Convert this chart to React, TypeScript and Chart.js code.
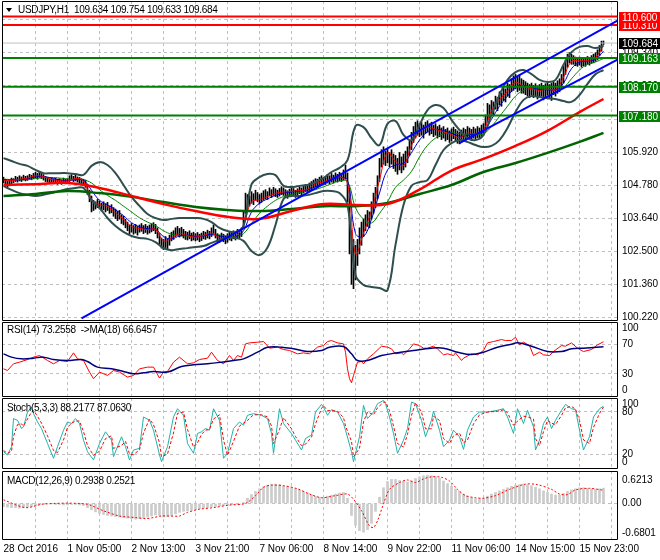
import React, { useEffect, useRef } from 'react';
import { Chart, registerables } from 'chart.js';

Chart.register(...registerables);

const FONT = '"Liberation Sans", Arial, sans-serif';
const GRID = '#C0C0C0';
const DASH = [3, 3];
const NONE = 'rgba(0,0,0,0)';

// ---------------- time axis ----------------
const X_MIN = -0.75;
const X_MAX = 306.75;
const gridBars = [16, 32, 48, 64, 80, 96, 112, 128, 144, 160, 176, 192, 208, 224, 240, 256, 272, 288, 304];
const xLabelBars = [0, 32, 64, 96, 128, 160, 192, 224, 256, 288];
const xLabels = ['28 Oct 2016', '1 Nov 05:00', '2 Nov 13:00', '3 Nov 21:00', '7 Nov 06:00', '8 Nov 14:00', '9 Nov 22:00', '11 Nov 06:00', '14 Nov 15:00', '15 Nov 23:00'];

// ---------------- price (H1 bars, high / low) ----------------
const barHigh = [
  105.05, 104.98, 104.92, 104.95, 105.02, 105.0, 105.08, 105.05, 105.1, 105.06,
  105.12, 105.08, 105.1, 105.15, 105.12, 105.18, 105.22, 105.18, 105.25, 105.2,
  105.14, 105.08, 105.05, 105.0, 105.04, 104.98, 105.02, 104.98, 105.0, 104.96,
  105.02, 104.98, 105.0, 105.1, 105.14, 105.08, 105.12, 105.06, 105.04, 105.0,
  104.98, 104.95, 104.8, 104.6, 104.4, 104.25, 104.2, 104.28, 104.22, 104.15,
  104.2, 104.12, 104.18, 104.05, 104.1, 104.0, 103.95, 103.88, 103.9, 103.75,
  103.7, 103.6, 103.5, 103.4, 103.45, 103.38, 103.42, 103.35, 103.4, 103.45,
  103.38, 103.42, 103.36, 103.4, 103.44, 103.48, 103.42, 103.3, 103.1, 102.95,
  102.9, 103.0, 102.92, 103.05, 103.15, 103.2, 103.3, 103.35, 103.28, 103.32,
  103.25, 103.18, 103.15, 103.2, 103.12, 103.15, 103.1, 103.14, 103.08, 103.12,
  103.18, 103.15, 103.22, 103.18, 103.3, 103.4, 103.25, 103.1, 103.05, 103.12,
  103.08, 103.02, 103.1, 103.18, 103.12, 103.2, 103.15, 103.25, 103.2, 103.3,
  103.9, 104.5, 104.45, 104.4, 104.55, 104.48, 104.6, 104.52, 104.45, 104.5,
  104.58, 104.62, 104.55, 104.68, 104.62, 104.7, 104.65, 104.6, 104.66, 104.72,
  104.68, 104.62, 104.58, 104.64, 104.7, 104.66, 104.6, 104.65, 104.72, 104.68,
  104.74, 104.8, 104.76, 104.85, 104.9, 104.95, 105.0, 104.98, 105.05, 105.1,
  105.02, 105.08, 105.15, 105.1, 105.18, 105.12, 105.2, 105.15, 105.22, 105.18,
  105.3, 105.47, 105.2, 104.6, 103.2, 102.9, 102.7, 102.9, 103.3, 103.5,
  103.6, 103.75, 103.9, 103.85, 104.2, 104.5, 104.7, 105.1, 105.7, 106.0,
  106.1, 105.95, 106.05, 105.9, 106.0, 105.85, 105.8, 105.7, 105.9, 105.75,
  105.85, 105.95, 106.1, 106.3, 106.6, 106.8, 106.95, 107.0, 106.9, 106.95,
  106.85, 106.95, 107.0, 106.9, 106.95, 106.85, 106.9, 106.8, 106.85, 106.75,
  106.8, 106.7, 106.75, 106.65, 106.72, 106.78, 106.7, 106.65, 106.6, 106.68,
  106.75, 106.7, 106.8, 106.75, 106.7, 106.78, 106.72, 106.8, 106.75, 106.85,
  106.9, 107.2, 107.6, 107.55, 107.7, 107.65, 107.85, 107.8, 108.0, 107.95,
  108.15, 108.1, 108.3, 108.25, 108.45, 108.55, 108.6, 108.5, 108.58, 108.45,
  108.4, 108.35, 108.3, 108.25, 108.3, 108.22, 108.28, 108.2, 108.25, 108.3,
  108.22, 108.28, 108.32, 108.25, 108.3, 108.35, 108.3, 108.38, 108.45, 108.6,
  108.9, 109.1, 109.3, 109.35, 109.3, 109.25, 109.2, 109.15, 109.2, 109.12,
  109.18, 109.15, 109.22, 109.18, 109.25, 109.3, 109.35, 109.45, 109.6, 109.75,
  109.754,
];
const barLow = [
  104.85, 104.78, 104.7, 104.75, 104.82, 104.86, 104.9, 104.88, 104.92, 104.9,
  104.95, 104.92, 104.94, 104.98, 104.96, 105.0, 105.02, 104.98, 105.04, 105.0,
  104.95, 104.9, 104.88, 104.84, 104.86, 104.82, 104.85, 104.8, 104.84, 104.8,
  104.85, 104.82, 104.84, 104.9, 104.95, 104.9, 104.92, 104.88, 104.86, 104.82,
  104.78, 104.7, 104.45, 104.2, 103.85, 103.9, 103.95, 104.0, 103.95, 103.88,
  103.92, 103.85, 103.9, 103.8, 103.82, 103.7, 103.62, 103.55, 103.6, 103.45,
  103.4, 103.3, 103.2, 103.1, 103.15, 103.08, 103.12, 103.05, 103.15, 103.18,
  103.1, 103.14, 103.08, 103.12, 103.16, 103.2, 103.1, 102.95, 102.75, 102.6,
  102.55, 102.62, 102.58, 102.7, 102.85, 102.9, 103.0, 103.05, 102.98, 103.02,
  102.95, 102.9, 102.88, 102.92, 102.85, 102.88, 102.85, 102.88, 102.82, 102.86,
  102.92, 102.9, 102.95, 102.92, 103.0, 103.1, 102.95, 102.82, 102.8, 102.85,
  102.82, 102.75, 102.8, 102.88, 102.85, 102.92, 102.88, 102.95, 102.95, 103.0,
  103.3, 103.8, 104.0, 104.05, 104.15, 104.1, 104.25, 104.2, 104.12, 104.18,
  104.25, 104.3, 104.28, 104.4, 104.35, 104.42, 104.38, 104.35, 104.4, 104.45,
  104.42, 104.36, 104.32, 104.38, 104.45, 104.4, 104.35, 104.4, 104.48, 104.44,
  104.5, 104.55, 104.52, 104.58, 104.62, 104.68, 104.72, 104.7, 104.75, 104.82,
  104.78, 104.8, 104.85, 104.82, 104.88, 104.85, 104.9, 104.88, 104.92, 104.9,
  104.95, 105.0, 104.2, 102.4, 101.35, 101.2, 101.5, 102.0, 102.4, 102.7,
  103.0, 103.2, 103.35, 103.3, 103.6, 103.8, 104.0, 104.3, 104.9, 105.4,
  105.5, 105.45, 105.55, 105.4, 105.5, 105.35, 105.25, 105.15, 105.3, 105.2,
  105.3, 105.4, 105.55, 105.8, 106.0, 106.25, 106.4, 106.5, 106.45, 106.5,
  106.4, 106.55, 106.6, 106.5, 106.55, 106.45, 106.5, 106.4, 106.45, 106.35,
  106.4, 106.3, 106.35, 106.25, 106.3, 106.38, 106.3, 106.22, 106.2, 106.28,
  106.35, 106.3, 106.4, 106.38, 106.32, 106.4, 106.35, 106.42, 106.4, 106.45,
  106.5, 106.7, 106.95, 107.1, 107.25, 107.2, 107.4, 107.35, 107.55, 107.5,
  107.7, 107.65, 107.85, 107.8, 108.0, 108.05, 108.1, 108.0, 108.05, 107.95,
  107.95, 107.9, 107.85, 107.8, 107.88, 107.8, 107.85, 107.75, 107.82, 107.85,
  107.72, 107.8, 107.88, 107.8, 107.7, 107.9, 107.85, 107.95, 108.0, 108.1,
  108.3, 108.6, 108.85, 109.0, 108.95, 108.95, 108.9, 108.88, 108.92, 108.85,
  108.9, 108.88, 108.95, 108.92, 108.98, 109.0, 109.05, 109.1, 109.25, 109.4,
  109.633,
];

// ---------------- overlays, sampled every 4 bars ----------------
const bbUpper = [
  105.71, 105.61, 105.51, 105.44, 105.3, 105.19, 105.19, 105.19, 105.19, 105.16,
  105.13, 105.44, 105.57, 105.47, 105.19, 104.78, 104.37, 104.06, 103.78, 103.64,
  103.57, 103.61, 103.64, 103.64, 103.64, 103.61, 103.5, 103.3, 103.19, 103.16,
  103.36, 104.8, 105.05, 105.16, 105.12, 104.75, 104.71, 104.75, 104.78, 104.88,
  105.02, 105.23, 105.37, 105.64, 106.82, 106.78, 106.4, 106.16, 106.89, 106.99,
  106.51, 106.33, 106.85, 107.37, 107.54, 107.44, 107.03, 106.68, 106.4, 106.33,
  106.51, 107.2, 107.89, 108.41, 108.68, 108.75, 108.61, 108.41, 108.34, 108.41,
  108.93, 109.37, 109.55, 109.58, 109.51, 109.58,
];
const bbLower = [
  104.74, 104.61, 104.5, 104.44, 104.4, 104.44, 104.5, 104.57, 104.64, 104.68,
  104.68, 104.26, 103.99, 103.64, 103.36, 103.16, 103.02, 102.95, 102.92, 102.81,
  102.6, 102.53, 102.57, 102.6, 102.64, 102.67, 102.78, 102.88, 102.95, 102.95,
  102.85, 102.5, 102.36, 102.62, 103.4, 104.3, 104.4, 104.4, 104.43, 104.5,
  104.57, 104.57, 104.5, 104.09, 101.67, 101.33, 101.26, 101.22, 101.15, 102.71,
  104.09, 104.75, 104.88, 104.95, 105.47, 105.99, 106.23, 106.33, 106.27, 106.16,
  106.09, 106.13, 106.33, 106.75, 107.3, 107.72, 107.85, 107.82, 107.78, 107.75,
  107.68, 107.65, 107.89, 108.27, 108.61, 108.75,
];
const fastRed = [
  104.95, 104.93, 104.98, 105.02, 105.1, 105.07, 104.97, 104.93, 104.92, 105.0,
  104.92, 104.3, 104.1, 104.04, 103.82, 103.6, 103.35, 103.28, 103.24, 103.25,
  102.85, 102.95, 103.1, 103.03, 102.98, 103.04, 103.12, 102.96, 102.95, 103.0,
  103.4, 104.2, 104.27, 104.38, 104.49, 104.54, 104.56, 104.59, 104.63, 104.82,
  104.89, 105.0, 105.06, 104.85, 102.4, 103.12, 103.9, 104.95, 105.9, 105.6,
  105.45, 106.15, 106.6, 106.77, 106.7, 106.62, 106.52, 106.42, 106.57, 106.56,
  106.68, 107.35, 107.72, 108.02, 108.32, 108.2, 108.1, 108.05, 108.09, 108.07,
  108.5, 109.05, 109.07, 109.08, 109.18, 109.6,
];
const fastBlue = [
  104.97, 104.95, 104.96, 105.0, 105.06, 105.07, 105.02, 104.96, 104.93, 104.96,
  104.95, 104.6, 104.25, 104.1, 103.92, 103.72, 103.48, 103.34, 103.27, 103.25,
  103.0, 102.92, 103.02, 103.05, 103.0, 103.02, 103.08, 103.02, 102.97, 102.99,
  103.2, 103.85, 104.15, 104.3, 104.42, 104.5, 104.54, 104.57, 104.61, 104.72,
  104.85, 104.95, 105.03, 104.95, 103.1, 103.0, 103.6, 104.5, 105.3, 105.47,
  105.53, 105.9, 106.33, 106.62, 106.7, 106.66, 106.57, 106.47, 106.5, 106.55,
  106.62, 107.05, 107.5, 107.85, 108.15, 108.22, 108.15, 108.08, 108.07, 108.07,
  108.3, 108.8, 109.02, 109.06, 109.12, 109.4,
];
const fastGreen = [
  104.98, 104.97, 104.96, 104.97, 105.0, 105.03, 105.04, 105.02, 104.99, 104.97,
  104.96, 104.85, 104.62, 104.42, 104.25, 104.05, 103.85, 103.65, 103.5, 103.38,
  103.2, 103.08, 103.03, 103.02, 103.02, 103.03, 103.05, 103.05, 103.02, 103.0,
  103.1, 103.45, 103.8, 104.05, 104.25, 104.38, 104.46, 104.52, 104.56, 104.62,
  104.72, 104.82, 104.92, 104.9, 104.0, 103.6, 103.47, 103.8, 104.2, 104.7,
  104.95, 105.25, 105.75, 106.15, 106.4, 106.55, 106.58, 106.55, 106.52, 106.52,
  106.55, 106.8, 107.15, 107.5, 107.85, 108.05, 108.1, 108.12, 108.1, 108.08,
  108.15, 108.45, 108.75, 108.95, 109.03, 109.15,
];

// slow moving averages
const slowBars = [0, 16, 32, 48, 64, 80, 96, 112, 128, 144, 160, 176, 192, 208, 224, 240, 256, 272, 288, 300];
const slowRed = [104.78, 104.81, 104.85, 104.68, 104.4, 104.12, 103.88, 103.68, 103.61, 103.88, 104.12, 104.09, 104.12, 104.62, 105.28, 105.68, 106.13, 106.65, 107.3, 107.75];
const slowGreen = [104.4, 104.47, 104.57, 104.5, 104.37, 104.19, 104.02, 103.92, 103.88, 103.95, 104.05, 104.05, 104.16, 104.47, 104.78, 105.23, 105.54, 105.89, 106.27, 106.58];

// horizontal levels and channel
const redLevels = [110.31, 110.6];
const greenLevels = [109.163, 108.17, 107.18];
const lastPrice = 109.684;
const upperChannelBars = [39, 307];
const upperChannelPrices = [100.17, 110.46];
const lowerChannelBars = [228, 307];
const lowerChannelPrices = [106.23, 109.11];
const priceGrid = [110.48, 109.34, 108.2, 107.06, 105.92, 104.78, 103.64, 102.5, 101.36, 100.22];

// ---------------- RSI ----------------
const rsiBars = [
  0, 2, 5, 8, 12, 15, 18, 22, 25, 28, 32, 35, 37, 40, 43, 45, 48, 52, 55, 58,
  62, 65, 68, 72, 75, 78, 80, 82, 85, 88, 92, 95, 98, 102, 104, 107, 110, 113, 115, 117,
  119, 121, 123, 127, 130, 133, 137, 140, 143, 147, 150, 153, 157, 160, 162,
  164, 167, 170, 171, 172, 173, 174, 175, 177, 179, 180, 182, 185, 189, 192, 194, 196, 199, 200, 203,
  205, 208, 210, 212, 215, 217, 220, 222, 225, 226, 229, 230, 234, 237, 240, 242, 245, 249, 251, 254,
  256, 258, 260, 263, 265, 268, 270, 273, 275, 279, 281, 284, 287, 290, 294, 297, 300,
];
const rsiValues = [
  36.7, 34.5, 43.5, 45.7, 49.3, 52.5, 54.7, 48, 43.5, 48, 46.6, 58.3, 50.2, 48, 32.3, 23.3, 32.3, 27.8, 34.5, 32.3,
  25.5, 27.8, 36.7, 39, 39, 24.2, 32.3, 33.2, 45.7, 52.5, 43.5, 44.8, 49.3, 51.1, 59.2, 48, 43.5, 54.7, 48, 54.7,
  52.5, 70.4, 71.8, 72.7, 73.6, 64.6, 66, 62.8, 61.5, 57, 58.3, 57, 66, 68.2, 73.6,
  74.9, 71.8, 70.4, 59.2, 36.7, 23.3, 17.9, 27.8, 45.7, 46.6, 43.5, 50.2, 57, 67.3, 66, 63.7, 57, 58.3, 55.6, 63.7,
  70.4, 68.2, 64.6, 64.6, 67.3, 63.7, 55.6, 57, 54.7, 58.3, 48, 51.1, 57, 55.6, 61.5, 71.8, 73.6, 76.3, 74.9, 74.9,
  79.4, 69.1, 72.7, 68.2, 54.7, 59.2, 55.6, 54.7, 60.1, 68.2, 67.3, 71.8, 64.6, 60.1, 62.8, 69.1, 73.3,
];
const rsiMaBars = [0, 4, 9, 15, 20, 25, 32, 39, 42, 47, 54, 60, 65, 70, 75, 82, 89, 95, 102, 109, 115, 120, 127, 132, 139, 145, 152, 159, 163, 170, 174, 177, 182, 189, 197, 205, 214, 220, 227, 234, 240, 247, 254, 257, 264, 272, 279, 284, 290, 300];
const rsiMaValues = [57, 52.5, 50.2, 51.1, 52.5, 49.3, 48, 49.3, 46.6, 39, 36.7, 33.2, 30, 31.3, 33.2, 32.3, 39.9, 42.1, 43.5, 45.7, 48, 50.2, 59.2, 66, 66, 63.7, 60.1, 61.5, 66, 66.9, 57, 48, 48, 54.7, 58.3, 61.5, 64.6, 64.6, 59.2, 56.1, 59.2, 66, 70, 71.8, 67.3, 60.1, 60.1, 63.7, 64.6, 66.6];
const rsiTickValues = [8.2, 30, 70, 91.8];
const rsiTickLabels = ['0', '30', '70', '100'];
const rsiGridLevels = [70, 30];

// ---------------- Stochastic ----------------
const stochBars = [
  0, 2, 4, 5, 7, 9, 10, 12, 14, 15, 17, 19, 22, 25, 27, 30, 32, 34, 36, 38,
  40, 42, 45, 48, 51, 54, 55, 59, 61, 63, 65, 68, 70, 73, 75, 78, 79, 82, 85, 87,
  90, 92, 95, 97, 99, 101, 103, 105, 108, 110, 112, 115, 118, 120, 122, 125, 129, 132, 134, 135,
  138, 140, 144, 146, 149, 151, 154, 156, 159, 160, 162,
  164, 167, 170, 171, 174, 175, 178, 180, 182, 185, 187, 190, 191, 193, 195, 197, 200, 202, 204, 206,
  209, 211, 214, 215, 218, 220, 223, 225, 228, 230, 232, 235, 238, 242, 247, 250, 252, 255, 257, 260,
  262, 265, 266, 268, 270, 272, 274, 276, 279, 281, 284, 286, 288, 290, 293, 295, 298, 300,
];
const stochMain = [
  23.3, 18.6, 30.4, 70.6, 68.2, 56.4, 58.7, 80, 87, 77.6, 65.8, 56.4, 35.1, 13.9, 30.4, 54, 65.8, 63.5, 70.6, 63.5,
  39.8, 23.3, 11.5, 35.1, 51.7, 39.8, 16.2, 44.6, 30.4, 11.5, 25.7, 28, 72.9, 68.2, 54, 18.6, 9.1, 30.4, 72.9, 84.7,
  75.3, 35.1, 21, 49.3, 51.7, 56.4, 54, 84.7, 68.2, 13.9, 21, 56.4, 65.8, 61.1, 75.3, 77.6, 75.3, 70.6, 49.3, 21,
  84.7, 63.5, 49.3, 39.8, 25.7, 42.2, 47, 80, 90.9, 87, 75.3,
  83.3, 80, 63.5, 54, 23.3, 9.1, 44.6, 89.4, 70.6, 80, 91.8, 96.5, 91.8, 72.9, 49.3, 21, 39.8, 56.4, 94.2, 91.8,
  68.2, 44.6, 68.2, 81.4, 54, 30.4, 39.8, 54, 44.6, 26.6, 54, 72.9, 80, 80, 82.4, 84.7, 72.9, 49.3, 84.7, 63.5,
  82.4, 58.7, 25.7, 39.8, 63.5, 72.9, 56.4, 68.2, 82.4, 90.9, 84.7, 83.3, 54, 25.7, 44.6, 72.9, 84.7, 88.2,
];
const stochSignal = [
  25, 21, 24, 45, 62, 63, 60, 70, 80, 82, 74, 64, 46, 25, 22, 40, 58, 64, 67, 67,
  52, 32, 18, 24, 42, 46, 28, 32, 38, 20, 19, 26, 50, 70, 62, 36, 16, 20, 50, 78,
  80, 55, 30, 36, 48, 54, 55, 70, 76, 40, 18, 38, 60, 64, 68, 76, 76, 73, 60, 35,
  55, 72, 56, 45, 32, 34, 44, 63, 85, 89, 82,
  82, 81, 72, 60, 38, 16, 28, 66, 80, 76, 86, 94, 94, 82, 60, 35, 30, 48, 75, 93,
  80, 56, 56, 74, 68, 42, 35, 46, 50, 36, 40, 63, 76, 80, 81, 83, 79, 61, 67, 74,
  73, 70, 42, 32, 52, 68, 64, 62, 75, 86, 88, 84, 68, 40, 35, 58, 78, 87.1,
];
const stochTickValues = [8.6, 20, 80, 91.4];
const stochTickLabels = ['0', '20', '80', '100'];
const stochGridLevels = [80, 20];

// ---------------- MACD ----------------
// main (histogram), one value every 2 bars
const macdHist = [
  -0.06, -0.07, -0.08, -0.08, -0.09, -0.08, -0.07, -0.06,
  -0.05, -0.03, -0.02, -0.01, -0.01, -0.02, -0.02, -0.03, -0.03, -0.02, -0.02, -0.03, -0.04,
  -0.08, -0.12, -0.16, -0.19, -0.21, -0.23, -0.24, -0.25, -0.26, -0.27, -0.28,
  -0.29, -0.3, -0.29, -0.28, -0.26, -0.24, -0.22, -0.23,
  -0.26, -0.25, -0.23, -0.2, -0.17,
  -0.15, -0.14, -0.13, -0.12,
  -0.1, -0.09, -0.08, -0.06, -0.06, -0.05,
  -0.04, -0.04, -0.03, -0.02, -0.02, 0.02,
  0.1, 0.17, 0.23, 0.28, 0.32,
  0.35, 0.37, 0.37, 0.36, 0.34, 0.32, 0.3, 0.28,
  0.26, 0.23, 0.2, 0.17, 0.14, 0.12, 0.12,
  0.14, 0.16, 0.18, 0.2, 0.21, 0.1,
  -0.23, -0.42, -0.52, -0.55, -0.5, -0.38,
  -0.15, 0.12, 0.3,
  0.42, 0.46, 0.46,
  0.44, 0.42, 0.41, 0.43,
  0.48, 0.51, 0.53, 0.54, 0.53, 0.51, 0.48,
  0.43, 0.38, 0.33,
  0.28, 0.23, 0.18, 0.14, 0.11, 0.09,
  0.09, 0.1, 0.14, 0.18,
  0.21, 0.24, 0.27, 0.3, 0.33, 0.35, 0.36,
  0.37, 0.36, 0.34, 0.31, 0.28,
  0.24, 0.21, 0.18, 0.16,
  0.16, 0.19, 0.23, 0.26,
  0.28, 0.3, 0.3, 0.29,
  0.28, 0.27, 0.28, 0.2938,
];
const macdSigBars = [0, 11, 20, 41, 50, 58, 66, 71, 75, 79, 83, 88, 92, 98, 105, 113, 121, 126, 130, 134, 140, 147, 153, 159, 166, 172, 175, 179, 183, 185, 187, 190, 193, 198, 202, 206, 210, 214, 219, 223, 227, 231, 236, 240, 246, 253, 261, 267, 274, 278, 282, 286, 293, 300];
const macdSignal = [0.07, -0.08, -0.01, -0.01, -0.14, -0.24, -0.27, -0.29, -0.27, -0.24, -0.24, -0.24, -0.17, -0.11, -0.08, -0.03, 0, 0.15, 0.31, 0.35, 0.34, 0.28, 0.18, 0.11, 0.15, 0.18, 0.08, -0.14, -0.43, -0.46, -0.33, -0.01, 0.27, 0.4, 0.45, 0.4, 0.47, 0.51, 0.5, 0.43, 0.27, 0.15, 0.11, 0.1, 0.15, 0.27, 0.37, 0.36, 0.27, 0.18, 0.17, 0.26, 0.29, 0.2521];
const macdMin = -0.6801;
const macdMax = 0.6213;
const macdTickValues = [-0.565, 0, 0.449];
const macdTickLabels = ['-0.6801', '0.00', '0.6213'];

// ---------------- helpers ----------------
const pts = (bars: number[], vals: number[]) => bars.map((b, k) => ({ x: b, y: vals[k] }));
const every4 = (vals: number[]) => vals.map((v, k) => ({ x: k * 4, y: v }));
const hline = (v: number) => [{ x: X_MIN, y: v }, { x: X_MAX, y: v }];

const framePlugin = {
  id: 'frame',
  afterDraw(chart: any) {
    const { ctx, chartArea: a } = chart;
    ctx.save();
    ctx.strokeStyle = '#000';
    ctx.lineWidth = 1;
    ctx.beginPath();
    ctx.moveTo(a.left + 0.5, a.top + 0.5);
    ctx.lineTo(a.right + 0.5, a.top + 0.5);
    ctx.lineTo(a.right + 0.5, a.bottom + 0.5);
    ctx.lineTo(a.left + 0.5, a.bottom + 0.5);
    ctx.closePath();
    ctx.stroke();
    ctx.restore();
  },
};

const priceBoxPlugin = {
  id: 'priceBoxes',
  afterDraw(chart: any) {
    const { ctx, chartArea: a } = chart;
    const y = chart.scales.y;
    const boxes = [
      ...redLevels.map((v) => ({ v, bg: '#FF0000' })),
      { v: lastPrice, bg: '#000000' },
      ...greenLevels.map((v) => ({ v, bg: '#008000' })),
    ];
    ctx.save();
    ctx.font = `10px ${FONT}`;
    ctx.textBaseline = 'middle';
    ctx.textAlign = 'left';
    boxes.forEach((b) => {
      const py = Math.round(y.getPixelForValue(b.v));
      ctx.fillStyle = b.bg;
      ctx.fillRect(a.right + 2, py - 5, 41, 11);
      ctx.fillStyle = '#FFFFFF';
      ctx.fillText(b.v.toFixed(3), a.right + 5, py + 1);
    });
    ctx.restore();
  },
};

function noPad(s: any) {
  s.paddingTop = 0;
  s.paddingBottom = 0;
  s.paddingLeft = 0;
  s.paddingRight = 0;
}

function xScale(withLabels: boolean): any {
  return {
    type: 'linear',
    position: 'bottom',
    min: X_MIN,
    max: X_MAX,
    offset: false,
    afterBuildTicks: (s: any) => {
      s.ticks = (withLabels ? [0, ...gridBars] : gridBars).map((v) => ({ value: v }));
    },
    afterFit: (s: any) => {
      s.height = withLabels ? 21 : 0;
      noPad(s);
    },
    ticks: withLabels
      ? {
          display: true,
          autoSkip: false,
          maxRotation: 0,
          minRotation: 0,
          align: 'start',
          padding: 4,
          color: '#000',
          font: { family: FONT, size: 10 },
          callback: (v: number) => {
            const k = xLabelBars.indexOf(v);
            return k >= 0 ? xLabels[k] : '';
          },
        }
      : { display: false },
    grid: { color: (c: any) => (c.tick && c.tick.value === 0 ? NONE : GRID), drawTicks: false, offset: false },
    border: { display: false, dash: DASH },
  };
}

function yScale(min: number, max: number, values: number[], labels: string[] | null, gridLevels: number[] | null): any {
  return {
    type: 'linear',
    position: 'right',
    min,
    max,
    afterBuildTicks: (s: any) => {
      s.ticks = values.map((v) => ({ value: v }));
    },
    afterFit: (s: any) => {
      s.width = 43;
      noPad(s);
    },
    ticks: {
      autoSkip: false,
      color: '#000',
      padding: 5,
      font: { family: FONT, size: 10 },
      callback: (v: number, i: number) => (labels ? labels[i] : v.toFixed(3)),
    },
    grid: {
      color: (c: any) => (!gridLevels || (c.tick && gridLevels.includes(c.tick.value)) ? GRID : NONE),
      drawTicks: false,
    },
    border: { display: false, dash: DASH },
  };
}

const baseOptions = (padTop: number, padBottom: number, scales: any): any => ({
  responsive: false,
  maintainAspectRatio: false,
  animation: false,
  devicePixelRatio: 1,
  events: [],
  layout: { padding: { top: padTop, bottom: padBottom, left: 2, right: 0 } },
  plugins: { legend: { display: false }, tooltip: { enabled: false }, title: { display: false } },
  scales,
});

const line = (data: any[], color: string, width: number, order: number, extra: any = {}) => ({
  type: 'line',
  data,
  borderColor: color,
  borderWidth: width,
  pointRadius: 0,
  fill: false,
  tension: 0,
  order,
  ...extra,
});

function mainConfig(): any {
  return {
    type: 'line',
    data: {
      datasets: [
        {
          type: 'bar',
          data: barHigh.map((h, i) => ({ x: i, y: [barLow[i], h] })),
          backgroundColor: '#000000',
          borderWidth: 0,
          barThickness: 1,
          grouped: false,
          order: 20,
        },
        line(every4(fastGreen), '#008000', 1, 15, { tension: 0.4 }),
        line(every4(fastBlue), '#0000CD', 1, 14, { tension: 0.4 }),
        line(every4(fastRed), '#FF0000', 1, 13, { tension: 0.4 }),
        line(every4(bbUpper), '#2F4F4F', 2, 12, { tension: 0.4 }),
        line(every4(bbLower), '#2F4F4F', 2, 12, { tension: 0.4 }),
        line(pts(slowBars, slowGreen), '#006400', 2.5, 11, { tension: 0.4 }),
        line(pts(slowBars, slowRed), '#FF0000', 2.5, 10, { tension: 0.4 }),
        line(hline(lastPrice), '#C0C0C0', 1, 9),
        ...redLevels.map((v) => line(hline(v), '#FF0000', 2, 8)),
        ...greenLevels.map((v) => line(hline(v), '#008000', 2, 8)),
        line(pts(upperChannelBars, upperChannelPrices), '#0000FF', 2, 7),
        line(pts(lowerChannelBars, lowerChannelPrices), '#0000FF', 2, 7),
      ],
    },
    options: baseOptions(1, 1, {
      x: xScale(false),
      y: yScale(100.117, 111.136, priceGrid, null, null),
    }),
    plugins: [framePlugin, priceBoxPlugin],
  };
}

function rsiConfig(): any {
  return {
    type: 'line',
    data: {
      datasets: [
        line(pts(rsiBars, rsiValues), '#FF0000', 1, 2),
        line(pts(rsiMaBars, rsiMaValues), '#000080', 1.5, 1, { tension: 0.4 }),
      ],
    },
    options: baseOptions(2, 1, {
      x: xScale(false),
      y: yScale(0, 100, rsiTickValues, rsiTickLabels, rsiGridLevels),
    }),
    plugins: [framePlugin],
  };
}

function stochConfig(): any {
  return {
    type: 'line',
    data: {
      datasets: [
        line(pts(stochBars, stochMain), '#20B2AA', 1, 2),
        line(pts(stochBars, stochSignal), '#FF0000', 1, 1, { borderDash: [3, 2] }),
      ],
    },
    options: baseOptions(2, 1, {
      x: xScale(false),
      y: yScale(0, 100, stochTickValues, stochTickLabels, stochGridLevels),
    }),
    plugins: [framePlugin],
  };
}

function macdConfig(): any {
  return {
    type: 'line',
    data: {
      datasets: [
        {
          type: 'bar',
          data: macdHist.map((v, k) => ({ x: k * 2, y: v })),
          backgroundColor: '#CCCCCC',
          borderWidth: 0,
          barThickness: 2,
          grouped: false,
          order: 2,
        },
        line(pts(macdSigBars, macdSignal), '#FF0000', 1, 1, { borderDash: [2, 2], tension: 0.3 }),
      ],
    },
    options: baseOptions(2, 0, {
      x: xScale(true),
      y: yScale(macdMin, macdMax, macdTickValues, macdTickLabels, [0]),
    }),
    plugins: [framePlugin],
  };
}

function Panel({ top, height, make }: { top: number; height: number; make: () => any }) {
  const ref = useRef<HTMLCanvasElement>(null);
  useEffect(() => {
    const chart = new Chart(ref.current as HTMLCanvasElement, make());
    return () => chart.destroy();
  }, []);
  return (
    <canvas
      ref={ref}
      width={660}
      height={height}
      style={{ position: 'absolute', left: 0, top, width: 660, height, display: 'block' }}
    />
  );
}

const titleStyle = (left: number, top: number): React.CSSProperties => ({
  position: 'absolute',
  left,
  top,
  font: `10px ${FONT}`,
  lineHeight: '12px',
  letterSpacing: '-0.3px',
  color: '#000',
  whiteSpace: 'pre',
  pointerEvents: 'none',
});

export default function App() {
  Chart.defaults.font.family = FONT;
  return (
    <div style={{ position: 'fixed', left: 0, top: 0, width: 660, height: 560, background: '#FFFFFF', overflow: 'hidden' }}>
      <Panel top={0} height={321} make={mainConfig} />
      <Panel top={320} height={77} make={rsiConfig} />
      <Panel top={396} height={73} make={stochConfig} />
      <Panel top={469} height={91} make={macdConfig} />
      <div
        style={{
          position: 'absolute',
          left: 6,
          top: 8,
          width: 0,
          height: 0,
          borderLeft: '3.5px solid transparent',
          borderRight: '3.5px solid transparent',
          borderTop: '4px solid #000',
        }}
      />
      <div style={titleStyle(18, 4)}>USDJPY,H1  109.634 109.754 109.633 109.684</div>
      <div style={titleStyle(7, 324)}>RSI(14) 73.2558  -&gt;MA(18) 66.6457</div>
      <div style={titleStyle(7, 402)}>Stoch(5,3,3) 88.2177 87.0630</div>
      <div style={titleStyle(7, 475)}>MACD(12,26,9) 0.2938 0.2521</div>
    </div>
  );
}
